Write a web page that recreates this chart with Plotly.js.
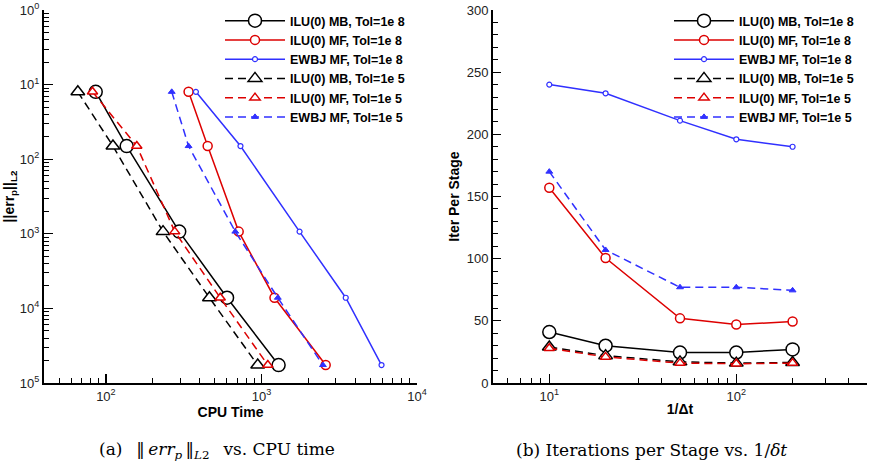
<!DOCTYPE html>
<html>
<head>
<meta charset="utf-8">
<script src="https://cdn.plot.ly/plotly-3.0.1.min.js"></script>
<style>html,body{margin:0;padding:0;background:#fff;}#chart{width:869px;height:468px;}</style>
</head>
<body>
<div id="chart"></div>
<script>
// ---- Data: (a) error vs CPU time ----
const errL2 = [0.080, 0.015, 1.07e-3, 1.39e-4, 1.74e-5];
const cpuMB8 = [86, 136, 296, 601, 1289];
const cpuMF8 = [340, 451, 714, 1213, 2588];
const cpuEW8 = [379, 733, 1758, 3483, 5915];
const cpuMB5 = [66, 111, 233, 463, 946];
const cpuMF5 = [82, 158, 277, 543, 1099];
const cpuEW5 = [265, 340, 679, 1274, 2485];

// ---- Data: (b) iterations per stage vs 1/dt ----
const invDt = [10, 20, 50, 100, 200];
const itMB8 = [41, 30, 24.5, 24.5, 27];
const itMF8 = [157, 100.5, 52, 47, 49.5];
const itEW8 = [240, 233, 211, 196, 190];
const itMB5 = [29, 22, 17, 16, 16.5];
const itMF5 = [28, 21, 16, 15.5, 16];
const itEW5 = [170, 107, 77, 77, 74.5];

const seriesNames = ['ILU(0) MB, Tol=1e 8', 'ILU(0) MF, Tol=1e 8', 'EWBJ MF, Tol=1e 8',
                     'ILU(0) MB, Tol=1e 5', 'ILU(0) MF, Tol=1e 5', 'EWBJ MF, Tol=1e 5'];

const leftYTicks = [1, 0.1, 0.01, 1e-3, 1e-4, 1e-5];
const leftYText = ['10<sup>0</sup>', '10<sup>1</sup>', '10<sup>2</sup>', '10<sup>3</sup>', '10<sup>4</sup>', '10<sup>5</sup>'];
const leftXTicks = [100, 1000, 10000];
const leftXText = ['10<sup>2</sup>', '10<sup>3</sup>', '10<sup>4</sup>'];
const rightXTicks = [10, 100];
const rightXText = ['10<sup>1</sup>', '10<sup>2</sup>'];

const BLACK = '#000000', RED = '#dd0000', BLUE = '#3030ff';
const DASH = '8px,5px';

const styles = [
  {color: BLACK, dash: 'solid', symbol: 'circle', size: 13, fill: '#fff', lw: 1.5},
  {color: RED, dash: 'solid', symbol: 'circle', size: 9, fill: '#fff', lw: 1.5},
  {color: BLUE, dash: 'solid', symbol: 'circle', size: 5, fill: '#fff', lw: 1.2},
  {color: BLACK, dash: DASH, symbol: 'triangle-up', size: 12, fill: '#fff', lw: 1.5},
  {color: RED, dash: DASH, symbol: 'triangle-up', size: 9, fill: '#fff', lw: 1.5},
  {color: BLUE, dash: DASH, symbol: 'triangle-up', size: 6, fill: BLUE, lw: 1}
];

function mk(x, y, i, xa, ya, lg) {
  const s = styles[i];
  return {
    x: x, y: y, xaxis: xa, yaxis: ya, legend: lg,
    type: 'scatter', mode: 'lines+markers', name: seriesNames[i],
    line: {color: s.color, width: 1.5, dash: s.dash},
    marker: {symbol: s.symbol, size: s.size, color: s.fill, line: {color: s.color, width: s.lw}}
  };
}

const leftX = [cpuMB8, cpuMF8, cpuEW8, cpuMB5, cpuMF5, cpuEW5];
const rightY = [itMB8, itMF8, itEW8, itMB5, itMF5, itEW5];

const traces = [];
for (let i = 0; i < 6; i++) traces.push(mk(leftX[i], errL2, i, 'x', 'y', 'legend'));
for (let i = 0; i < 6; i++) traces.push(mk(invDt, rightY[i], i, 'x2', 'y2', 'legend2'));

function logMinor(lo, hi) {
  const v = [];
  for (let e = lo; e <= hi; e++) for (let d = 2; d <= 9; d++) v.push(d * Math.pow(10, e));
  return v;
}

const tickFont = {family: 'Liberation Sans, Arial, sans-serif', size: 13, color: '#222'};
const titleFont = {family: 'Liberation Sans, Arial, sans-serif', size: 14, color: '#000', weight: 'bold'};
const legendFont = {family: 'Liberation Sans, Arial, sans-serif', size: 12.5, color: '#000', weight: 'bold'};
const capFont = {family: 'DejaVu Serif, Liberation Serif, serif', size: 17, color: '#000'};

const axBase = {
  showline: true, linecolor: '#000', linewidth: 2, mirror: false,
  showgrid: false, zeroline: false,
  ticks: 'inside', ticklen: 9, tickwidth: 1.2, tickcolor: '#000',
  tickfont: tickFont
};

const H = 468, W = 869;
const yDom = [(H - 383) / H, (H - 10) / H];

const layout = {
  width: W, height: H,
  margin: {l: 0, r: 0, t: 0, b: 0},
  paper_bgcolor: '#fff', plot_bgcolor: '#fff',
  showlegend: true,
  xaxis: Object.assign({}, axBase, {
    type: 'log', domain: [44 / W, 417 / W], range: [Math.log10(40), 4], anchor: 'y',
    tickmode: 'array', tickvals: leftXTicks, ticktext: leftXText,
    minor: {tickmode: 'array', tickvals: logMinor(1, 3), ticks: 'inside', ticklen: 5, tickwidth: 1, tickcolor: '#000'},
    title: {text: 'CPU Time', font: titleFont, standoff: 2}
  }),
  yaxis: Object.assign({}, axBase, {
    type: 'log', domain: yDom, range: [-5, 0], anchor: 'x',
    tickmode: 'array', tickvals: leftYTicks, ticktext: leftYText,
    minor: {tickmode: 'array', tickvals: logMinor(-5, -1), ticks: 'inside', ticklen: 5, tickwidth: 1, tickcolor: '#000'},
    title: {text: '||err<sub>p</sub>||<sub>L2</sub>', font: titleFont, standoff: 2}
  }),
  xaxis2: Object.assign({}, axBase, {
    type: 'log', domain: [493 / W, 867 / W], range: [Math.log10(5), Math.log10(500)], anchor: 'y2',
    tickmode: 'array', tickvals: rightXTicks, ticktext: rightXText,
    minor: {tickmode: 'array', tickvals: logMinor(0, 2), ticks: 'inside', ticklen: 5, tickwidth: 1, tickcolor: '#000'},
    title: {text: '1/Δt', font: titleFont, standoff: 2}
  }),
  yaxis2: Object.assign({}, axBase, {
    domain: yDom, range: [0, 300], anchor: 'x2',
    tickmode: 'linear', tick0: 0, dtick: 50, ticklen: 8,
    minor: {dtick: 10, ticks: 'inside', ticklen: 5, tickwidth: 1, tickcolor: '#000'},
    title: {text: 'Iter Per Stage', font: titleFont, standoff: 4}
  }),
  legend: {
    x: 220 / W, xanchor: 'left', y: (H - 6) / H, yanchor: 'top', itemwidth: 60,
    bgcolor: 'rgba(0,0,0,0)', borderwidth: 0, tracegroupgap: 0, font: legendFont
  },
  legend2: {
    x: 669 / W, xanchor: 'left', y: (H - 6) / H, yanchor: 'top', itemwidth: 60,
    bgcolor: 'rgba(0,0,0,0)', borderwidth: 0, tracegroupgap: 0, font: legendFont
  },
  annotations: [
    {xref: 'paper', yref: 'paper', x: 217 / W, y: (H - 450) / H, xanchor: 'center', yanchor: 'middle', showarrow: false,
     text: '(a)\u2002 ‖\u2009<i>err<sub>p</sub></i>\u2009‖<sub><i>L</i>2</sub>\u2002 vs. CPU time', font: capFont},
    {xref: 'paper', yref: 'paper', x: 651 / W, y: (H - 450) / H, xanchor: 'center', yanchor: 'middle', showarrow: false,
     text: '(b) Iterations per Stage vs. 1/<i>δt</i>', font: capFont}
  ]
};

Plotly.newPlot('chart', traces, layout, {staticPlot: true, displayModeBar: false});
</script>
</body>
</html>
